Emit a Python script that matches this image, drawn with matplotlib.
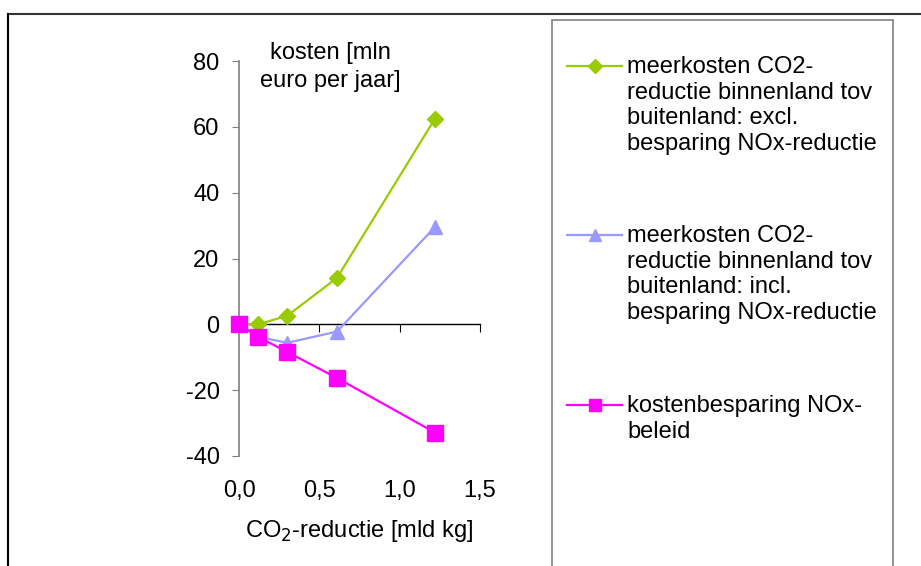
import numpy as np
import matplotlib.pyplot as plt
from matplotlib.lines import Line2D
from matplotlib.patches import Rectangle

plt.rcParams['font.family'] = ['Liberation Sans', 'DejaVu Sans']
plt.rcParams['axes.unicode_minus'] = False

# CO2-reductie [mld kg]
co2 = [0.0, 0.12, 0.30, 0.61, 1.22]
# kosten [mln euro per jaar]
excl_nox = [0.0, 0.0, 2.6, 14.1, 62.5]
incl_nox = [0.0, -3.8, -5.6, -2.2, 29.6]
besparing_nox = [0.0, -3.8, -8.4, -16.3, -32.9]

labels = [
    "meerkosten CO2-\nreductie binnenland tov\nbuitenland: excl.\nbesparing NOx-reductie",
    "meerkosten CO2-\nreductie binnenland tov\nbuitenland: incl.\nbesparing NOx-reductie",
    "kostenbesparing NOx-\nbeleid",
]
xticks = [0.0, 0.5, 1.0, 1.5]
xticklabels = ["0,0", "0,5", "1,0", "1,5"]
yticks = [-40, -20, 0, 20, 40, 60, 80]

FS = 17
W, H = 921, 566
fig = plt.figure(figsize=(W / 100, H / 100), dpi=100)

def fx(px):
    return px / W

def fy(py):
    return 1 - py / H

# outer frame (top and left edge)
fig.add_artist(Line2D([fx(8), fx(921)], [fy(14), fy(14)], color="#333333", lw=1.5))
fig.add_artist(Line2D([fx(8), fx(8)], [fy(14), fy(566)], color="black", lw=1.5))

# legend box
fig.add_artist(Rectangle((fx(552), fy(570)), fx(893) - fx(552), fy(20) - fy(570),
                         fill=False, edgecolor="#808080", lw=1.2))

ax = fig.add_axes([fx(239), fy(456), fx(480) - fx(239), fy(61) - fy(456)])

styles = [
    dict(color="#99CC00", marker="D", ms=8.5, label=labels[0]),
    dict(color="#9999FF", marker="^", ms=10.5, label=labels[1]),
    dict(color="#FF00FF", marker="s", ms=11, label=labels[2]),
]
series = [excl_nox, incl_nox, besparing_nox]
for vals, st in zip(series, styles):
    ax.plot(co2, vals, lw=1.6, clip_on=False, zorder=3, **st)

ax.set_xlim(0, 1.5)
ax.set_ylim(-40, 80)
for s in ["top", "right"]:
    ax.spines[s].set_visible(False)
ax.spines["left"].set_color("#808080")
ax.spines["left"].set_linewidth(1.2)
ax.spines["bottom"].set_position(("data", 0))
ax.spines["bottom"].set_linewidth(1.0)
ax.set_yticks(yticks)
ax.set_xticks(xticks)
ax.tick_params(axis="y", direction="out", length=5, color="#808080", labelsize=FS, pad=9)
ax.tick_params(axis="x", direction="out", length=6, labelbottom=False)
for t, lab in zip(xticks, xticklabels):
    ax.text(t, -35 / 395, lab, transform=ax.get_xaxis_transform(),
            ha="center", va="center", fontsize=FS)

ax.text(0.5, -75 / 395, "CO$_2$-reductie [mld kg]", transform=ax.transAxes,
        ha="center", va="center", fontsize=FS)
fig.text(fx(330), fy(67), "kosten [mln\neuro per jaar]", ha="center", va="center",
         fontsize=FS, linespacing=1.4)

# legend drawn by hand so the marker sits on the first text line
entry_y = [66, 235, 405]
for y, st in zip(entry_y, styles):
    fig.add_artist(Line2D([fx(567), fx(622)], [fy(y), fy(y)], color=st["color"], lw=1.6))
    fig.add_artist(Line2D([fx(595)], [fy(y)], color=st["color"], marker=st["marker"],
                          ms=st["ms"] * 0.85, lw=0))
    fig.text(fx(627), fy(y - 10), st["label"], ha="left", va="top", fontsize=FS,
             linespacing=1.22)

fig.savefig("out.png", dpi=100)
